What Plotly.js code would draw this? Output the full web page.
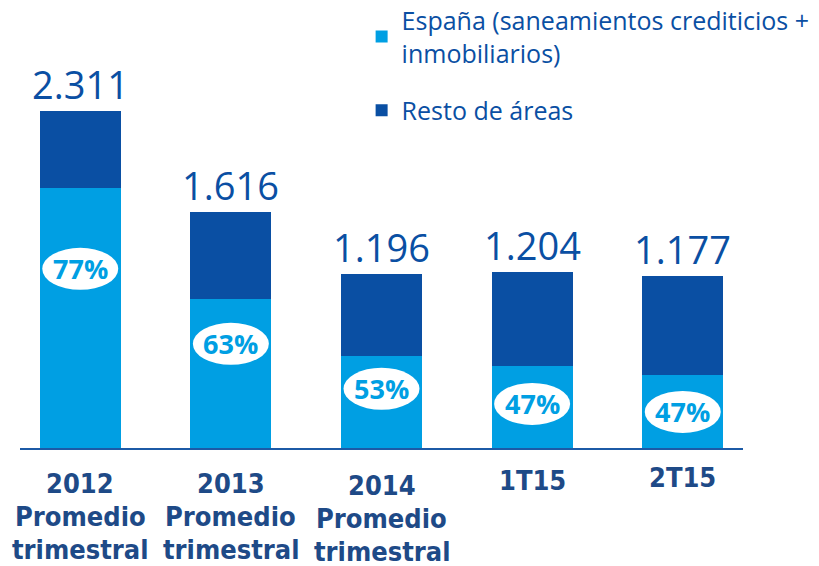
<!DOCTYPE html>
<html>
<head>
<meta charset="utf-8">
<script src="https://cdn.plot.ly/plotly-3.0.1.min.js"></script>
<style>html,body{margin:0;padding:0;background:#fff;}#chart{width:819px;height:566px;}</style>
</head>
<body>
<div id="chart"></div>
<script>
// ---- Data ----
const categories = ['2012<br>Promedio<br>trimestral', '2013<br>Promedio<br>trimestral', '2014<br>Promedio<br>trimestral', '1T15', '2T15'];
const totals = [2311, 1616, 1196, 1204, 1177];
const espana = [1780, 1020, 630, 565, 500];
const resto = totals.map((t, i) => t - espana[i]);
const pctLabels = ['77%', '63%', '53%', '47%', '47%'];
const seriesNames = ['España (saneamientos crediticios +<br>inmobiliarios)', 'Resto de áreas'];

// ---- Styling ----
const lightBlue = '#009FE3';
const darkBlue = '#0A4FA3';
const navy = '#1E4A87';
const labelFrac = [0.69, 0.70, 0.645, 0.535, 0.495]; // where the % ellipse sits within the España segment
const catShift = [0, 0, 2, -3, -6]; // small vertical stagger of category labels (px)

const xIdx = categories.map((c, i) => i);

const traces = [
  {type: 'bar', x: xIdx, y: espana, name: seriesNames[0], marker: {color: lightBlue}, legendgroup: 'a', hoverinfo: 'none'},
  {type: 'bar', x: xIdx, y: resto, name: seriesNames[1], marker: {color: darkBlue}, legendgroup: 'b', hoverinfo: 'none'}
];

const annotations = [];
const shapes = [];
totals.forEach((t, i) => {
  annotations.push({
    x: i, y: t, xref: 'x', yref: 'y', yanchor: 'bottom', xanchor: 'center', showarrow: false,
    text: t.toLocaleString('de-DE'), yshift: -1,
    font: {family: 'Open Sans, Noto Sans, sans-serif', size: 38, color: darkBlue}
  });
  const ly = espana[i] * labelFrac[i];
  shapes.push({
    type: 'circle', xref: 'x', yref: 'y', xsizemode: 'pixel', ysizemode: 'pixel',
    xanchor: i, yanchor: ly, x0: -38, x1: 38, y0: -21, y1: 21,
    fillcolor: '#ffffff', line: {width: 0}, layer: 'above'
  });
  annotations.push({
    x: i, y: ly, xref: 'x', yref: 'y', showarrow: false, text: '<b>' + pctLabels[i] + '</b>',
    font: {family: 'Open Sans, sans-serif', size: 27, color: lightBlue}
  });
  const lines = categories[i].split('<br>');
  lines.forEach((ln, k) => {
    annotations.push({
      x: i, y: 0, xref: 'x', yref: 'paper', yanchor: 'middle', showarrow: false,
      text: '<b>' + ln + '</b>', yshift: -(35 + 33 * k + catShift[i]),
      font: {family: 'DejaVu Sans Condensed, sans-serif', size: 27, color: navy}
    });
  });
});

const layout = {
  width: 819, height: 566,
  margin: {l: 20, r: 76, t: 60, b: 118, autoexpand: false},
  paper_bgcolor: '#ffffff', plot_bgcolor: '#ffffff',
  barmode: 'stack', bargap: 0.463,
  xaxis: {range: [-0.4, 4.4], showline: true, linecolor: '#1C5AA6', linewidth: 2,
          showticklabels: false, showgrid: false, zeroline: false, ticks: '', fixedrange: true},
  yaxis: {range: [0, 2660], visible: false, showgrid: false, zeroline: false, fixedrange: true},
  showlegend: true,
  legend: {x: 0.4725, y: 1.161, xanchor: 'left', yanchor: 'top', traceorder: 'grouped', tracegroupgap: 22,
           font: {family: 'Open Sans, Noto Sans, sans-serif', size: 25, color: darkBlue},
           bgcolor: 'rgba(0,0,0,0)'},
  annotations: annotations,
  shapes: shapes
};

Plotly.newPlot('chart', traces, layout, {displayModeBar: false, staticPlot: true});
</script>
</body>
</html>
